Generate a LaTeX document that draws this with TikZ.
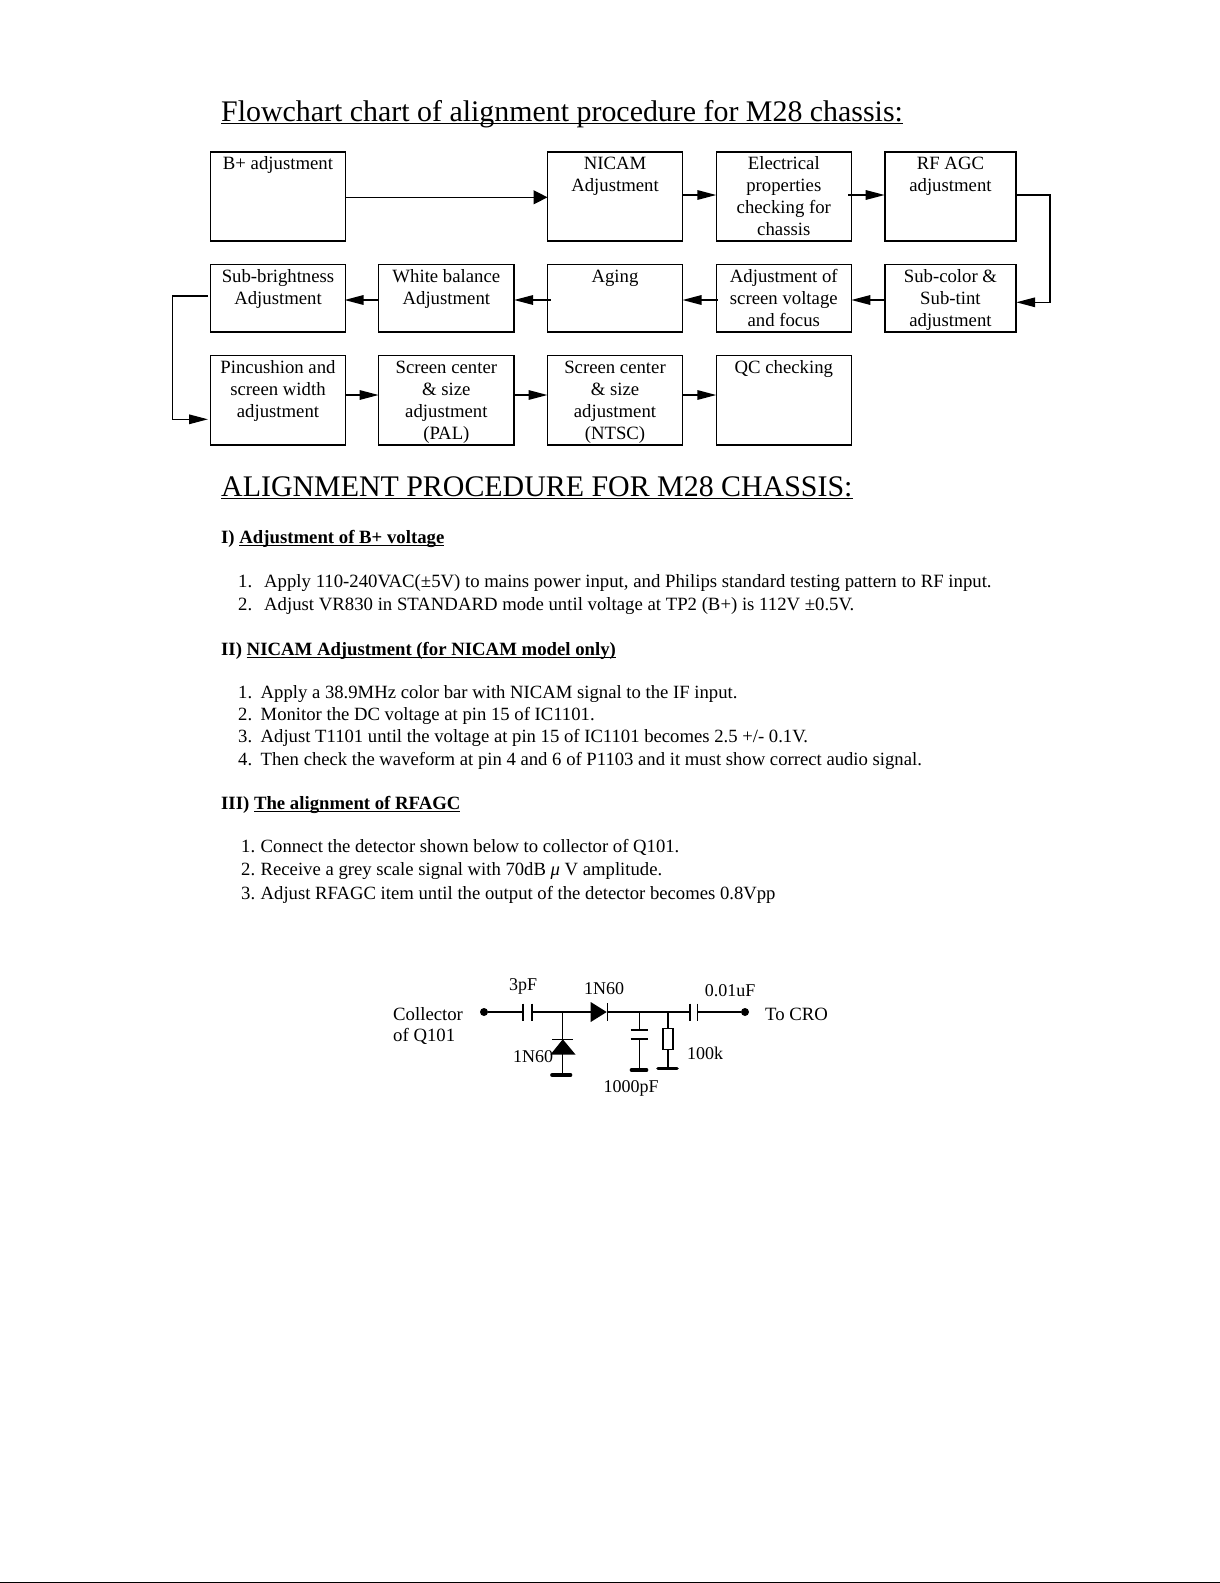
\documentclass[tikz,border=0pt]{standalone}
\usepackage{fontspec}
\setmainfont{Liberation Serif}
\usetikzlibrary{arrows.meta}
\newcommand\myul[1]{\setbox0\hbox{#1}\rlap{\rule[-3.4pt]{\wd0}{1.5pt}}\box0}
\def\boxtop{17.5}
\newcommand\boxtext[3]{\parbox[c][#2pt][t]{#1pt}{\centering\fontsize{18.75}{22}\selectfont\rule{0pt}{\boxtop pt}#3\par}}
\tikzset{
  fbox/.style={draw=black,line width=1.6pt,inner sep=0pt,outer sep=0pt,anchor=north west},
  arr/.style={line width=1.6pt,-{Triangle[length=19pt,width=9.5pt]}},
  arrw/.style={line width=1.4pt,-{Triangle[length=14pt,width=14pt]}},
  tx/.style={anchor=base west,inner sep=0pt,font=\fontsize{18.75}{22}\selectfont},
  txb/.style={anchor=base west,inner sep=0pt,font=\fontsize{18.68}{22}\selectfont},
  ttl/.style={anchor=base west,inner sep=0pt,font=\fontsize{29.9}{34}\selectfont},
  wire/.style={line width=1.6pt},
  gnd/.style={line width=3.6pt,line cap=round},
  clab/.style={inner sep=0pt,font=\fontsize{18}{20}\selectfont},
  term/.style={circle,fill=black,inner sep=0pt,minimum size=8pt}
}
\begin{document}
\begin{tikzpicture}[x=1pt,y=1pt]
\useasboundingbox (0,0) rectangle (1220,-1583);
\fill[black] (0,-1582) rectangle (1220,-1583);
% titles
\node[ttl] (t1) at (221,-121) {\myul{Flowchart chart of alignment procedure for M28 chassis:}};
\node[ttl] (t2) at (221,-496) {\myul{ALIGNMENT PROCEDURE FOR M28 CHASSIS:}};
% row 1
\node[fbox] (bplus) at (210.5,-151.7) {\boxtext{135}{89}{B+ adjustment}};
\node[fbox] (nicam) at (547.5,-151.7) {\boxtext{135}{89}{NICAM\\Adjustment}};
\node[fbox] (elec) at (716.3,-151.7) {\boxtext{135}{89}{Electrical\\properties\\checking for\\chassis}};
\node[fbox] (rfagc) at (884.7,-151.7) {\boxtext{131.5}{89}{RF AGC\\adjustment}};
\def\boxtop{18}
% row 2
\node[fbox] (subb) at (210.5,-264.3) {\boxtext{135}{67.7}{Sub-brightness\\Adjustment}};
\node[fbox] (white) at (378.6,-264.3) {\boxtext{135.5}{67.7}{White balance\\Adjustment}};
\node[fbox] (aging) at (547.5,-264.3) {\boxtext{135}{67.7}{Aging}};
\node[fbox] (adjs) at (716.3,-264.3) {\boxtext{135}{67.7}{Adjustment of\\screen voltage\\and focus}};
\node[fbox] (subc) at (884.7,-264.3) {\boxtext{131.5}{67.7}{Sub-color \&\\Sub-tint\\adjustment}};
% row 3
\node[fbox] (pinc) at (210.5,-355.3) {\boxtext{135}{89.7}{Pincushion and\\screen width\\adjustment}};
\node[fbox] (pal) at (378.6,-355.3) {\boxtext{135.5}{89.7}{Screen center\\\& size\\adjustment\\(PAL)}};
\node[fbox] (ntsc) at (547.5,-355.3) {\boxtext{135}{89.7}{Screen center\\\& size\\adjustment\\(NTSC)}};
\node[fbox] (qc) at (716.3,-355.3) {\boxtext{135}{89.7}{QC checking}};
% connectors
\draw[arrw] (bplus.east |- 0,-197.3) -- (nicam.west |- 0,-197.3);
\draw[arr] (nicam.east |- 0,-195) -- (elec.west |- 0,-195);
\draw[arr] ([xshift=-3pt]elec.east |- 0,-195) -- (rfagc.west |- 0,-195);
\coordinate (rfr) at (1050,-195);
\coordinate (subcr) at (1050,-302.3);
\draw[arr] (rfagc.east |- rfr) -- (rfr) -- (subcr) -- (subc.east |- subcr);
\draw[arr] (subc.west |- 0,-300) -- (adjs.east |- 0,-300);
\draw[arr] ([xshift=1.5pt]adjs.west |- 0,-300) -- (aging.east |- 0,-300);
\draw[arr] ([xshift=3pt]aging.west |- 0,-300) -- (white.east |- 0,-300);
\draw[arr] (white.west |- 0,-300) -- ([xshift=-1pt]subb.east |- 0,-300);
\coordinate (sl1) at (172.5,-295.7);
\coordinate (sl2) at (172.5,-419.3);
\draw[arr] ([xshift=-2.5pt]subb.west |- sl1) -- (sl1) -- (sl2) -- ([xshift=-2.5pt]pinc.west |- sl2);
\draw[arr] (pinc.east |- 0,-395) -- (pal.west |- 0,-395);
\draw[arr] (pal.east |- 0,-395) -- (ntsc.west |- 0,-395);
\draw[arr] (ntsc.east |- 0,-395) -- (qc.west |- 0,-395);
% text
\node[tx] (h1) at (221,-543) {\textbf{I) \myul{Adjustment of B+ voltage}}};
\node[tx] (a1) at (238,-587) {1.};
\node[tx] (a1t) at (264,-587) {Apply 110-240VAC(±5V) to mains power input, and Philips standard testing pattern to RF input.};
\node[tx] (a2) at (238,-610) {2.};
\node[tx] (a2t) at (264,-610) {Adjust VR830 in STANDARD mode until voltage at TP2 (B+) is 112V ±0.5V.};
\node[tx] (h2) at (221,-655) {\textbf{II) \myul{NICAM Adjustment (for NICAM model only)}}};
\node[txb] (b1) at (238,-698) {1.};
\node[txb] (b1t) at (260.5,-698) {Apply a 38.9MHz color bar with NICAM signal to the IF input.};
\node[txb] (b2) at (238,-720) {2.};
\node[txb] (b2t) at (260.5,-720) {Monitor the DC voltage at pin 15 of IC1101.};
\node[txb] (b3) at (238,-742) {3.};
\node[txb] (b3t) at (260.5,-742) {Adjust T1101 until the voltage at pin 15 of IC1101 becomes 2.5 +/- 0.1V.};
\node[txb] (b4) at (238,-765) {4.};
\node[txb] (b4t) at (260.5,-765) {Then check the waveform at pin 4 and 6 of P1103 and it must show correct audio signal.};
\node[tx] (h3) at (221,-809) {\textbf{III) \myul{The alignment of RFAGC}}};
\node[txb] (c1) at (241,-852) {1.};
\node[txb] (c1t) at (260.5,-852) {Connect the detector shown below to collector of Q101.};
\node[txb] (c2) at (241,-875) {2.};
\node[txb] (c2t) at (260.5,-875) {Receive a grey scale signal with 70dB {\itshape μ} V amplitude.};
\node[txb] (c3) at (241,-899) {3.};
\node[txb] (c3t) at (260.5,-899) {Adjust RFAGC item until the output of the detector becomes 0.8Vpp};
% circuit
\node[tx] (col1) at (393,-1020) {Collector};
\node[tx] (col2) at (393,-1041.7) {of Q101};
\node[tx] (cro) at (765,-1020) {To CRO};
\node[term] (tl) at (484,-1012) {};
\node[term] (tr) at (745,-1012) {};
\coordinate (c1a) at (522.7,-1012);
\coordinate (c1b) at (531.7,-1012);
\coordinate (j1) at (562.3,-1012);
\coordinate (d1a) at (590.7,-1012);
\coordinate (d1k) at (607.5,-1012);
\coordinate (j2) at (639.3,-1012);
\coordinate (j3) at (667.7,-1012);
\coordinate (c3a) at (690,-1012);
\coordinate (c3b) at (697.3,-1012);
\draw[wire] (tl) -- (c1a) ++(0,8.5) -- ++(0,-17);
\draw[wire] (c1b) ++(0,8.5) -- ++(0,-17);
\draw[wire] (c1b) -- (d1a);
\fill (d1a) ++(0,10) -- ++(16,-10) -- ++(-16,-10) -- cycle;
\draw[wire] (d1k) ++(0,9) -- ++(0,-18);
\draw[wire] (d1k) -- (c3a) ++(0,8.5) -- ++(0,-17);
\draw[wire] (c3b) ++(0,8.5) -- ++(0,-17);
\draw[wire] (c3b) -- (tr);
% lower diode
\draw[wire] (j1) -- (562.3,-1075);
\draw[wire] (552,-1039.3) -- (572.5,-1039.3);
\fill (562.8,-1039.3) -- (575.5,-1054.5) -- (550.5,-1054.5) -- cycle;
\draw[gnd] (552,-1075) -- (570.5,-1075);
% capacitor
\draw[wire] (j2) -- (639.3,-1030);
\draw[wire] (630.7,-1030) -- (647.5,-1030);
\draw[wire] (630.7,-1039) -- (647.5,-1039);
\draw[wire] (639.3,-1039) -- (639.3,-1070);
\draw[gnd] (631.5,-1070) -- (646.5,-1070);
% resistor
\draw[wire] (j3) -- (667.7,-1028.3);
\draw[wire] (662.7,-1028.3) rectangle (673,-1049.3);
\draw[wire] (667.7,-1049.3) -- (667.7,-1068.3);
\draw[gnd] (658,-1068.3) -- (677,-1068.3);
% circuit labels
\node[clab] (l1) at (523,-986) {3pF};
\node[clab] (l2) at (604,-989) {1N60};
\node[clab] (l3) at (730,-991) {0.01uF};
\node[clab] (l4) at (533,-1057) {1N60};
\node[clab] (l5) at (631,-1088) {1000pF};
\node[clab] (l6) at (705,-1053) {100k};
\end{tikzpicture}
\end{document}
